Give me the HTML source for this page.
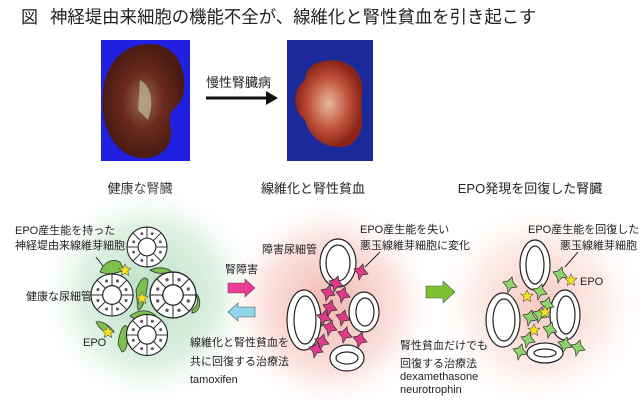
<!DOCTYPE html>
<html><head><meta charset="utf-8"><style>
body{margin:0;width:640px;height:400px;overflow:hidden;background:#fff;font-family:"Liberation Sans","Noto Sans CJK JP",sans-serif;}
svg text{font-family:"Liberation Sans","Noto Sans CJK JP",sans-serif;fill:#222;}
</style></head><body>
<svg width="640" height="400" viewBox="0 0 640 400" xmlns="http://www.w3.org/2000/svg">
<defs>
<radialGradient id="gg"><stop offset="0" stop-color="#b9e0c4"/><stop offset="0.6" stop-color="#dff1e3"/><stop offset="1" stop-color="#fff" stop-opacity="0"/></radialGradient>
<radialGradient id="rg"><stop offset="0" stop-color="#f2b7b0"/><stop offset="0.6" stop-color="#fbe2de"/><stop offset="1" stop-color="#fff" stop-opacity="0"/></radialGradient>
<radialGradient id="rg2"><stop offset="0" stop-color="#f6c9c2"/><stop offset="0.6" stop-color="#fdeeea"/><stop offset="1" stop-color="#fff" stop-opacity="0"/></radialGradient>
<radialGradient id="k1" cx="0.5" cy="0.5" r="0.5"><stop offset="0" stop-color="#9a6a50"/><stop offset="0.5" stop-color="#6a2a1c"/><stop offset="1" stop-color="#4a1a12"/></radialGradient>
<radialGradient id="k2" cx="0.5" cy="0.5" r="0.5"><stop offset="0" stop-color="#e8b8a0"/><stop offset="0.6" stop-color="#c0503a"/><stop offset="1" stop-color="#8a2418"/></radialGradient>
<g id="ring0"><circle r="27" fill="#fff" stroke="#222" stroke-width="1.5"/><circle r="12" fill="#fff" stroke="#222" stroke-width="1.5"/>
<g stroke="#222" stroke-width="1.2"><line x1="12" y1="0" x2="27" y2="0"/><line x1="-12" y1="0" x2="-27" y2="0"/><line x1="0" y1="12" x2="0" y2="27"/><line x1="0" y1="-12" x2="0" y2="-27"/><line x1="8.5" y1="8.5" x2="19" y2="19"/><line x1="-8.5" y1="8.5" x2="-19" y2="19"/><line x1="8.5" y1="-8.5" x2="19" y2="-19"/><line x1="-8.5" y1="-8.5" x2="-19" y2="-19"/></g>
<g fill="#6a5070"><circle cx="18" cy="7" r="2"/><circle cx="7" cy="18" r="2"/><circle cx="-7" cy="18" r="2"/><circle cx="-18" cy="7" r="2"/><circle cx="-18" cy="-7" r="2"/><circle cx="-7" cy="-18" r="2"/><circle cx="7" cy="-18" r="2"/><circle cx="18" cy="-7" r="2"/></g></g>
<path id="star" d="M0,-6 L1.8,-2 6,-1.8 2.8,1.2 3.7,5.5 0,3.2 -3.7,5.5 -2.8,1.2 -6,-1.8 -1.8,-2Z" fill="#f5e31c" stroke="#555" stroke-width="0.6"/>
<path id="pc" d="M-7,-3 L-2,-4 2,-8 3,-3 7,2 1,3 -2,8 -3,2Z" fill="#e03a8a" stroke="#333" stroke-width="0.7"/>
<path id="gc" d="M-7,-3 L-2,-4 2,-8 3,-3 7,2 1,3 -2,8 -3,2Z" fill="#8ed46a" stroke="#333" stroke-width="0.7"/>
</defs>
<text x="21" y="23" font-size="17">図</text>
<text x="50" y="23" font-size="17.4">神経堤由来細胞の機能不全が、線維化と腎性貧血を引き起こす</text>
<!-- photos -->
<rect x="101" y="40" width="89" height="121" fill="#2020e0"/>
<path d="M150,44 C178,44 188,72 183,96 C178,110 168,108 170,124 C176,148 158,160 140,158 C110,154 100,120 103,92 C106,62 124,44 150,44Z" fill="url(#k1)"/>
<path d="M140,80 C150,85 155,100 148,120 L138,110Z" fill="#c0b8a0" opacity="0.7"/>
<rect x="287" y="40" width="86" height="121" fill="#1a2a9a"/>
<path d="M320,62 C345,55 365,70 362,95 C360,115 368,132 350,145 C330,152 310,140 305,120 C292,110 292,90 305,80 C305,70 312,64 320,62Z" fill="url(#k2)"/>
<text x="206" y="87" font-size="13">慢性腎臓病</text>
<line x1="206" y1="98" x2="268" y2="98" stroke="#111" stroke-width="3"/>
<path d="M266,91 L278,98 266,105Z" fill="#111"/>
<text x="140" y="193" font-size="13" text-anchor="middle">健康な腎臓</text>
<text x="313" y="193" font-size="13" text-anchor="middle">線維化と腎性貧血</text>
<text x="530" y="193" font-size="13" text-anchor="middle">EPO発現を回復した腎臓</text>
<!-- backgrounds -->
<circle cx="150" cy="295" r="115" fill="url(#gg)"/>
<circle cx="330" cy="305" r="110" fill="url(#rg)"/>
<circle cx="540" cy="305" r="110" fill="url(#rg2)"/>
<!-- left cluster -->
<g fill="#7cc04e" stroke="#333" stroke-width="0.8">
<path d="M100,272 C104,262 112,258 120,262 L124,270 C116,274 108,275 100,272Z"/>
<path d="M136,290 C140,280 144,275 148,280 C146,300 142,310 138,310Z"/>
<path d="M130,316 C140,308 150,310 156,316 C148,322 138,322 130,316Z"/>
<path d="M118,344 C120,328 126,320 128,330 C128,350 124,352 122,352Z"/>
<path d="M96,322 C102,320 110,326 114,332 C106,334 100,330 96,322Z"/>
<path d="M192,310 C200,305 198,296 194,292 C202,296 202,312 192,313Z"/>
<path d="M150,270 C160,266 168,268 172,272 C162,274 156,274 150,270Z"/>
</g>
<use href="#ring0" transform="translate(147,247) scale(0.74)"/>
<use href="#ring0" transform="translate(112,295) scale(0.78)"/>
<use href="#ring0" transform="translate(173,295) scale(0.85)"/>
<use href="#ring0" transform="translate(147,335) scale(0.76)"/>
<use href="#star" x="125" y="270"/>
<use href="#star" x="142" y="298"/>
<use href="#star" x="108" y="332"/>
<text x="15" y="234" font-size="11">EPO産生能を持った</text>
<text x="15" y="249" font-size="11">神経堤由来線維芽細胞</text>
<line x1="96" y1="257" x2="103" y2="266" stroke="#222"/>
<text x="26" y="300" font-size="11">健康な尿細管</text>
<text x="83" y="346" font-size="11">EPO</text>
<!-- arrows -->
<text x="225" y="273" font-size="11">腎障害</text>
<path d="M228,283 L245,283 245,279 255,288 245,297 245,293 228,293Z" fill="#ea3d92" stroke="#555" stroke-width="0.6"/>
<path d="M255,307 L238,307 238,303 228,312 238,321 238,317 255,317Z" fill="#8fd6ec" stroke="#555" stroke-width="0.6"/>
<text x="190" y="346" font-size="11">線維化と腎性貧血を</text>
<text x="190" y="365" font-size="11">共に回復する治療法</text>
<text x="190" y="383" font-size="11">tamoxifen</text>
<text x="262" y="253" font-size="11">障害尿細管</text>
<!-- tubules -->
<g fill="#fff" stroke="#222" stroke-width="1.2">
<ellipse cx="338" cy="263" rx="18" ry="24"/><ellipse cx="338" cy="263" rx="12" ry="18"/>
<ellipse cx="364" cy="312" rx="15" ry="20"/><ellipse cx="365" cy="312" rx="9" ry="14"/>
<ellipse cx="304" cy="320" rx="17" ry="30"/><ellipse cx="305" cy="320" rx="11" ry="24"/>
<ellipse cx="347" cy="358" rx="17" ry="13"/><ellipse cx="347" cy="358" rx="11" ry="6"/>
<ellipse cx="535" cy="265" rx="15" ry="25"/><ellipse cx="535" cy="265" rx="9" ry="19"/>
<ellipse cx="565" cy="315" rx="15" ry="25"/><ellipse cx="566" cy="315" rx="9" ry="19"/>
<ellipse cx="503" cy="320" rx="17" ry="27"/><ellipse cx="504" cy="320" rx="11" ry="21"/>
<ellipse cx="545" cy="353" rx="18" ry="10"/><ellipse cx="545" cy="353" rx="11" ry="4"/>
</g>
<use href="#pc" x="361" y="272"/><use href="#pc" x="328" y="293"/><use href="#pc" x="343" y="295"/>
<use href="#pc" x="330" y="308"/><use href="#pc" x="343" y="318"/><use href="#pc" x="330" y="328"/>
<use href="#pc" x="345" y="335"/><use href="#pc" x="322" y="342"/><use href="#pc" x="360" y="340"/>
<use href="#pc" x="324" y="318"/><use href="#pc" x="316" y="350"/><use href="#pc" x="336" y="284"/>
<text x="360" y="233" font-size="11">EPO産生能を失い</text>
<text x="360" y="249" font-size="11">悪玉線維芽細胞に変化</text>
<line x1="380" y1="252" x2="365" y2="267" stroke="#222"/>
<path d="M426,286 L443,286 443,281 455,292 443,303 443,298 426,298Z" fill="#7cc030" stroke="#555" stroke-width="0.6"/>
<text x="400" y="349" font-size="11">腎性貧血だけでも</text>
<text x="400" y="367" font-size="11">回復する治療法</text>
<text x="400" y="380" font-size="11">dexamethasone</text>
<text x="400" y="393" font-size="11">neurotrophin</text>
<!-- right -->
<use href="#gc" x="560" y="275"/><use href="#gc" x="510" y="285"/><use href="#gc" x="540" y="292"/>
<use href="#gc" x="547" y="305"/><use href="#gc" x="530" y="318"/><use href="#gc" x="550" y="330"/>
<use href="#gc" x="528" y="340"/><use href="#gc" x="565" y="345"/><use href="#gc" x="520" y="352"/>
<use href="#gc" x="540" y="315"/><use href="#gc" x="578" y="348"/>
<use href="#star" x="571" y="280"/><use href="#star" x="527" y="296"/><use href="#star" x="545" y="312"/><use href="#star" x="534" y="330"/>
<text x="528" y="233" font-size="11">EPO産生能を回復した</text>
<text x="560" y="249" font-size="11">悪玉線維芽細胞</text>
<line x1="578" y1="252" x2="565" y2="267" stroke="#222"/>
<text x="580" y="285" font-size="11">EPO</text>
</svg>
</body></html>
